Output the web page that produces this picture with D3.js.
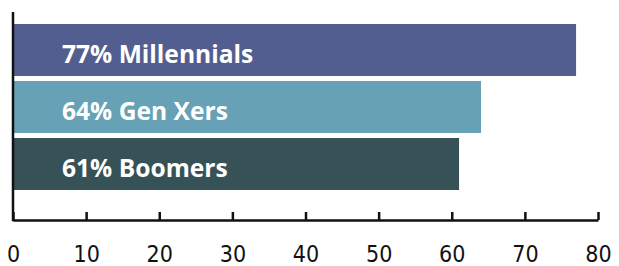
<!DOCTYPE html>
<html>
<head>
  <meta charset="UTF-8">
  <style>
    body { margin: 0; background: #fff; }
    svg { display: block; }
    .tick text { font-family: "Liberation Sans Narrow", "DejaVu Sans Condensed", sans-serif; font-size: 23px; fill: #111; }
    .bar-label { font-family: "Open Sans", Lato, sans-serif; font-weight: 700; font-size: 24.6px; fill: #fff; }
  </style>
</head>
<body>
<svg></svg>
<script src="https://d3js.org/d3.v7.min.js"></script>
<script>
const width = 619, height = 266;

// data
const groups = ["Millennials", "Gen Xers", "Boomers"];
const shares = [77, 64, 61];
const barColors = ["#525e8f", "#66a1b5", "#365257"];
const xTicks = [0, 10, 20, 30, 40, 50, 60, 70, 80];

const svg = d3.select("svg")
    .attr("width", width)
    .attr("height", height);

const x = d3.scaleLinear()
    .domain([0, 80])
    .range([13, 598]);

const y = d3.scaleBand()
    .domain(groups)
    .range([24, 190])
    .paddingInner(5 / 57)
    .paddingOuter(0);

const axisY = 220;

// bars
svg.append("g")
    .selectAll("rect")
    .data(groups)
    .join("rect")
    .attr("x", x(0) + 1)
    .attr("y", d => y(d))
    .attr("width", (d, i) => x(shares[i]) - x(0) - 1)
    .attr("height", y.bandwidth())
    .attr("fill", (d, i) => barColors[i]);

// labels inside bars
svg.append("g")
    .selectAll("text")
    .data(groups)
    .join("text")
    .attr("class", "bar-label")
    .attr("x", 62)
    .attr("y", d => y(d) + y.bandwidth() / 2 + 13)
    .text((d, i) => `${shares[i]}% ${d}`);

// x axis, ticks pointing up
const xAxis = svg.append("g")
    .attr("transform", `translate(0,${axisY})`)
    .call(d3.axisBottom(x)
        .tickValues(xTicks)
        .tickSizeInner(-8)
        .tickSizeOuter(0)
        .tickPadding(26)
        .tickFormat(d3.format("d")));

xAxis.select(".domain").attr("stroke", "#111").attr("stroke-width", 2.5);
xAxis.selectAll(".tick line").attr("stroke", "#111").attr("stroke-width", 2.5);
xAxis.selectAll(".tick text").attr("font-family", null).attr("font-size", null);

// vertical baseline
svg.append("line")
    .attr("x1", x(0)).attr("x2", x(0))
    .attr("y1", 12).attr("y2", axisY + 1.25)
    .attr("stroke", "#111")
    .attr("stroke-width", 2.5);
</script>
</body>
</html>
